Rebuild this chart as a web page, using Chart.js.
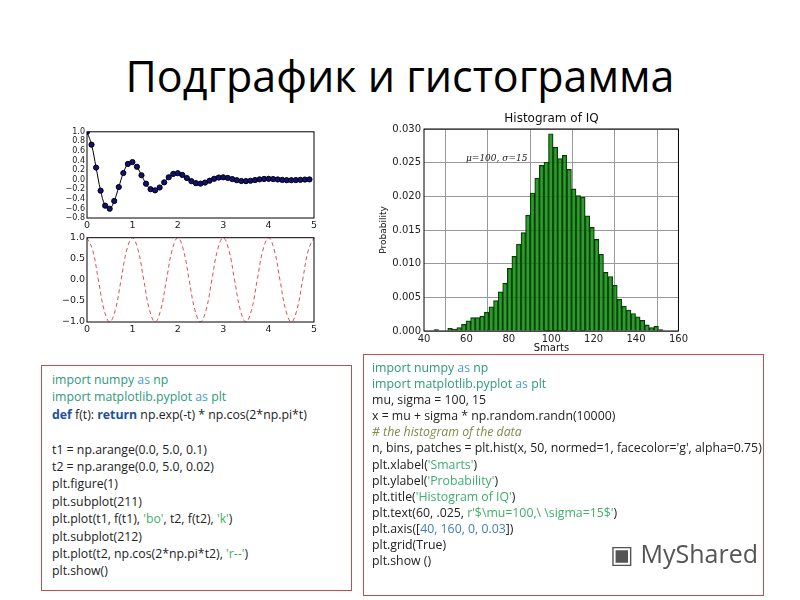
<!DOCTYPE html>
<html><head><meta charset="utf-8">
<script src="https://cdn.jsdelivr.net/npm/chart.js@4"></script>
<style>
body{margin:0;width:800px;height:600px;background:#fff;position:relative;overflow:hidden;font-family:"Open Sans",sans-serif}
.abs{position:absolute}
h1{position:absolute;left:0;width:800px;top:46px;margin:0;text-align:center;font-weight:normal;font-size:43px;font-family:"Open Sans",sans-serif;color:#000}
.box{position:absolute;border:1px solid #c0504d;box-sizing:border-box;font-size:12.3px;color:#222;white-space:pre}
.k{color:#2f9a78}.a{color:#4a9ccc}.s{color:#3fae6a}.c{color:#7f8a4a;font-style:italic}.n{color:#3f7fb5}.b{color:#2050a0;font-weight:bold}
</style></head><body>
<h1>Подграфик и гистограмма</h1>
<div class="abs" style="left:50px;top:125px;width:270px;height:107px"><canvas id="c1"></canvas></div>
<div class="abs" style="left:50px;top:230px;width:270px;height:108px"><canvas id="c2"></canvas></div>
<div class="abs" style="left:370px;top:110px;width:320px;height:240px"><canvas id="c3"></canvas></div>
<div class="abs" style="left:424px;top:111px;width:255px;text-align:center;font-family:'DejaVu Sans';font-size:12px;color:#111">Histogram of IQ</div>
<div class="abs" style="left:424px;top:342px;width:255px;text-align:center;font-family:'DejaVu Sans';font-size:10px;color:#111">Smarts</div>
<div class="abs" style="left:343px;top:225px;width:80px;text-align:center;font-family:'DejaVu Sans';font-size:9px;color:#111;transform:rotate(-90deg)">Probability</div>
<div class="abs" style="left:466px;top:153px;font-family:'DejaVu Serif';font-style:italic;font-size:9px;color:#222">μ=100, σ=15</div>
<div class="box" style="left:41px;top:365px;width:311px;height:226px;padding:5px 0 0 10px;line-height:17.4px"><span class="k">import numpy </span><span class="a">as</span><span class="k"> np</span>
<span class="k">import matplotlib.pyplot </span><span class="a">as</span><span class="k"> plt</span>
<span class="b">def</span> f(t): <span class="b">return</span> np.exp(-t) * np.cos(2*np.pi*t)

t1 = np.arange(0.0, 5.0, 0.1)
t2 = np.arange(0.0, 5.0, 0.02)
plt.figure(1)
plt.subplot(211)
plt.plot(t1, f(t1), <span class="s">'bo'</span>, t2, f(t2), <span class="s">'k'</span>)
plt.subplot(212)
plt.plot(t2, np.cos(2*np.pi*t2), <span class="s">'r--'</span>)
plt.show()</div>
<div class="box" style="left:363px;top:354px;width:401px;height:242px;padding:5px 0 0 8px;line-height:16.1px"><span class="k">import numpy </span><span class="a">as</span><span class="k"> np</span>
<span class="k">import matplotlib.pyplot </span><span class="a">as</span><span class="k"> plt</span>
mu, sigma = 100, 15
x = mu + sigma * np.random.randn(10000)
<span class="c"># the histogram of the data</span>
n, bins, patches = plt.hist(x, 50, normed=1, facecolor='g', alpha=0.75)
plt.xlabel(<span class="s">'Smarts'</span>)
plt.ylabel(<span class="s">'Probability'</span>)
plt.title(<span class="s">'Histogram of IQ'</span>)
plt.text(60, .025, <span class="s">r'$\mu=100,\ \sigma=15$'</span>)
plt.axis([<span class="n">40, 160, 0, 0.03</span>])
plt.grid(True)
plt.show ()</div>
<div class="abs" style="left:610px;top:536px;font-size:25px;color:#555;font-family:'Open Sans'">▣ MyShared</div>
<script>
const t1 = [0,0.1,0.2,0.3,0.4,0.5,0.6,0.7,0.8,0.9,1,1.1,1.2,1.3,1.4,1.5,1.6,1.7,1.8,1.9,2,2.1,2.2,2.3,2.4,2.5,2.6,2.7,2.8,2.9,3,3.1,3.2,3.3,3.4,3.5,3.6,3.7,3.8,3.9,4,4.1,4.2,4.3,4.4,4.5,4.6,4.7,4.8,4.9];
const f1 = [1,0.732,0.253,-0.229,-0.542,-0.607,-0.444,-0.153,0.139,0.329,0.368,0.270,0.093,-0.084,-0.199,-0.223,-0.163,-0.056,0.051,0.121,0.135,0.099,0.034,-0.031,-0.073,-0.082,-0.060,-0.021,0.019,0.045,0.050,0.037,0.013,-0.011,-0.027,-0.030,-0.022,-0.008,0.007,0.016,0.018,0.013,0.005,-0.004,-0.010,-0.011,-0.008,-0.003,0.003,0.006];
const t2 = [0,0.125,0.25,0.375,0.5,0.625,0.75,0.875,1,1.125,1.25,1.375,1.5,1.625,1.75,1.875,2,2.125,2.25,2.375,2.5,2.625,2.75,2.875,3,3.125,3.25,3.375,3.5,3.625,3.75,3.875,4,4.125,4.25,4.375,4.5,4.625,4.75,4.875,5];
const c2 = [1,0.707,0,-0.707,-1,-0.707,0,0.707,1,0.707,0,-0.707,-1,-0.707,0,0.707,1,0.707,0,-0.707,-1,-0.707,0,0.707,1,0.707,0,-0.707,-1,-0.707,0,0.707,1,0.707,0,-0.707,-1,-0.707,0,0.707,1];
const binStart = 45.8, binWidth = 2.16;
const histVals = [0.0002,0,0,0.0004,0.0003,0.0005,0.001,0.0015,0.002,0.002,0.0022,0.0028,0.0036,0.0045,0.0058,0.0071,0.0093,0.0111,0.0129,0.0146,0.0172,0.0205,0.0227,0.0246,0.0251,0.0293,0.0273,0.0256,0.0261,0.0240,0.0211,0.0201,0.0199,0.0171,0.0154,0.0136,0.0114,0.0087,0.0081,0.0068,0.0047,0.0037,0.0031,0.0026,0.0021,0.0016,0.0009,0.0005,0.0007,0.0002];

const frame = {id:'frame',afterDraw(c){const a=c.chartArea,x=c.ctx;x.save();x.strokeStyle='#000';x.lineWidth=1;x.strokeRect(a.left,a.top,a.right-a.left,a.bottom-a.top);x.restore();}};
const tickFont = {family:'DejaVu Sans',size:9};
function base(ymin,ymax,ystep,ywidth,xh,ytickCb,pad,fs){
 return {responsive:true,maintainAspectRatio:false,animation:false,layout:{padding:pad},
  plugins:{legend:{display:false},tooltip:{enabled:false}},
  scales:{x:{type:'linear',min:0,max:5,border:{display:false},grid:{display:false,drawTicks:false},
   ticks:{stepSize:1,font:{family:'DejaVu Sans',size:9.5},color:'#222',padding:2},afterFit(s){s.height=xh;}},
   y:{min:ymin,max:ymax,border:{display:false},grid:{display:false,drawTicks:false},
   ticks:{stepSize:ystep,autoSkip:false,font:{family:'DejaVu Sans',size:fs},color:'#222',padding:2,callback:ytickCb},afterFit(s){s.width=ywidth;}}}};
}
new Chart(document.getElementById('c1'),{type:'line',
 data:{datasets:[{data:t1.map((t,i)=>({x:t,y:f1[i]})),borderColor:'#000',borderWidth:1,backgroundColor:'#000080',pointBackgroundColor:'#10107a',pointBorderColor:'#000',pointRadius:2.6,tension:0.4}]},
 options:base(-0.8,1.0,0.2,37,14,v=>(Math.abs(v)<1e-9?0:v).toFixed(1).replace('-','−'),{top:5,right:6},8),plugins:[frame]});
new Chart(document.getElementById('c2'),{type:'line',
 data:{datasets:[{data:t2.map((t,i)=>({x:t,y:c2[i]})),borderColor:'#e05050',borderWidth:1,borderDash:[4,3],pointRadius:0,tension:0.4}]},
 options:base(-1,1,0.5,37,16,v=>v.toFixed(1).replace('-','−'),{top:5,right:6},9.5),plugins:[frame]});
new Chart(document.getElementById('c3'),{type:'bar',
 data:{datasets:[{data:histVals.map((v,i)=>({x:binStart+i*binWidth,y:v})),backgroundColor:'rgba(0,128,0,0.8)',borderColor:'#0a2a0a',borderWidth:0.8,barPercentage:1,categoryPercentage:1}]},
 options:{responsive:true,maintainAspectRatio:false,animation:false,layout:{padding:{top:19,right:11}},
  plugins:{legend:{display:false},tooltip:{enabled:false}},
  scales:{x:{type:'linear',min:40,max:160,offset:false,border:{display:false},grid:{color:'#999',borderDash:[1,2],drawTicks:false},
   ticks:{stepSize:20,font:{family:'DejaVu Sans',size:10},color:'#222',padding:2},afterFit(s){s.height=19;}},
   y:{min:0,max:0.03,border:{display:false},grid:{color:'#999',borderDash:[1,2],drawTicks:false},
   ticks:{stepSize:0.005,font:{family:'DejaVu Sans',size:10},color:'#222',padding:3,callback:v=>v.toFixed(3)},afterFit(s){s.width=54;}}}},
 plugins:[frame]});
</script></body></html>
